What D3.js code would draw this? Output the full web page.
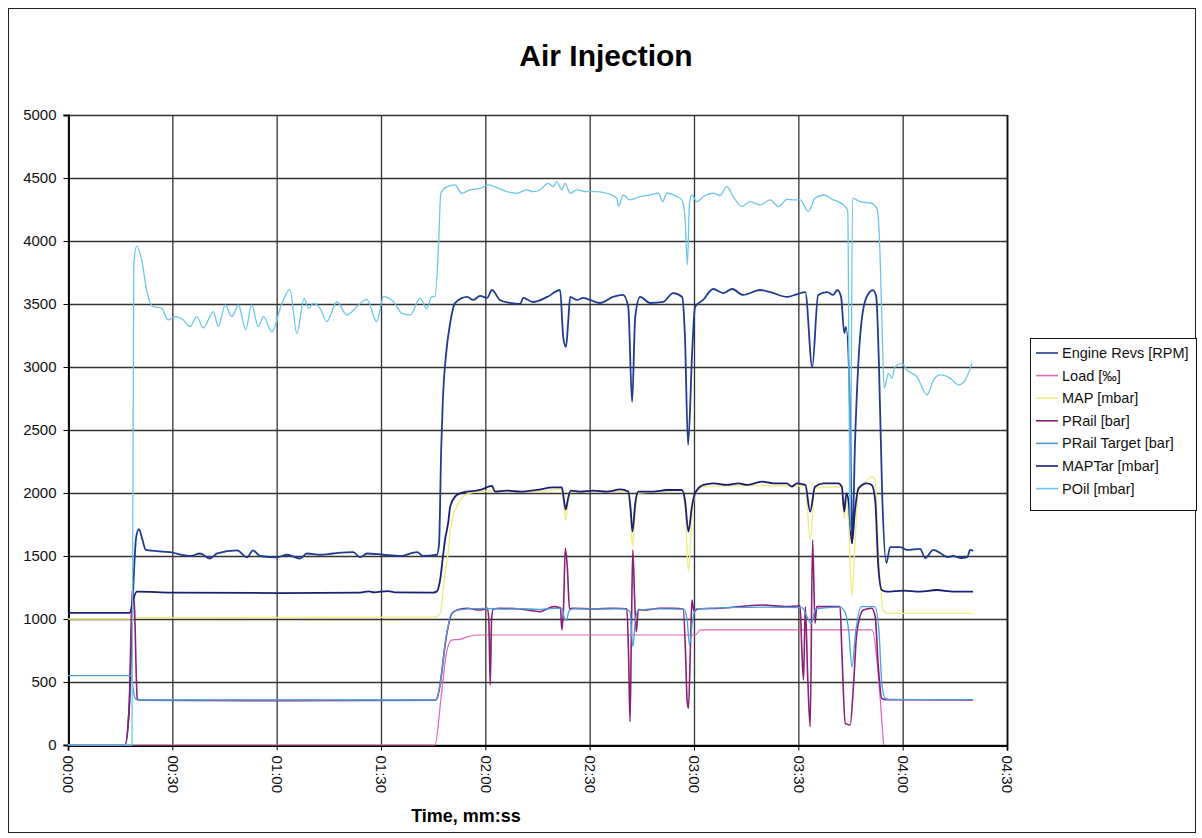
<!DOCTYPE html>
<html>
<head>
<meta charset="utf-8">
<script src="https://cdn.jsdelivr.net/npm/d3@7"></script>
<style>
  body { margin: 0; background: #fff; }
  svg { font-family: "Liberation Sans", Arial, sans-serif; }
</style>
</head>
<body>
<div id="chart"></div>
<script>
// time in seconds
var engineRevs = [[0,0],[16.4,0],[17.6,300],[18.7,1200],[19.6,1650],[20.4,1714],[21.2,1650],[22.4,1548],[29.3,1530],[35.1,1500],[38.0,1520],[40.8,1480],[42.9,1520],[48.6,1545],[51.5,1490],[53.2,1545],[55.2,1500],[60.1,1490],[63.0,1510],[66.7,1480],[68.7,1520],[72.5,1510],[76.2,1520],[82.0,1530],[84.0,1490],[86.0,1520],[90.6,1510],[95.5,1500],[100.4,1530],[102.1,1500],[106.1,1510],[106.7,1600],[107.3,2340],[107.8,2750],[108.7,3100],[109.9,3350],[111.3,3508],[114.8,3556],[116.5,3532],[118.5,3564],[120.5,3548],[121.9,3611],[124.2,3532],[127.1,3508],[130.0,3500],[130.9,3548],[133.7,3516],[137.8,3556],[141.5,3611],[142.4,3238],[143.2,3159],[143.8,3349],[144.4,3556],[146.4,3532],[148.1,3548],[150.1,3532],[153.0,3508],[156.7,3556],[159.6,3572],[161.1,3476],[162.2,2722],[163.1,3397],[164.5,3556],[167.4,3508],[171.1,3516],[174.0,3587],[176.6,3556],[177.4,3238],[178.3,2381],[179.5,3135],[180.3,3476],[182.6,3532],[185.5,3619],[188.4,3587],[191.0,3619],[194.1,3572],[199.0,3611],[201.9,3595],[206.8,3556],[209.7,3579],[212.0,3595],[214.0,3000],[215.7,3572],[218.3,3595],[220.0,3572],[221.2,3611],[222.3,3556],[223.2,3270],[223.7,3318],[224.9,2600],[225.5,1600],[226.3,2400],[227.2,3000],[228.6,3450],[230.1,3580],[231.5,3610],[232.4,3560],[233.2,3000],[234.1,2000],[235.3,1444],[236.4,1571],[239.3,1571],[241.3,1548],[245.0,1556],[246.5,1484],[248.8,1548],[250.8,1524],[252.8,1492],[254.5,1500],[256.5,1484],[258.6,1492],[259.4,1548],[260.3,1540]];

var load = [[0,0],[105.5,0],[107.4,410],[108.8,728],[110.3,833],[112.7,839],[115.1,860],[117.5,873],[180.4,873],[181.8,913],[231.1,913],[234.5,0]];

var map = [[0,1000],[17.5,1000],[19.0,1010],[105.5,1015],[107.0,1045],[108.4,1362],[109.4,1548],[109.9,1706],[111.8,1892],[114.7,1990],[118.5,2011],[125,2020],[135,2010],[141.8,2030],[142.6,1900],[143.1,1786],[143.9,1950],[144.6,2010],[155,2015],[161.1,2010],[161.8,1800],[162.3,1574],[163.1,1850],[164.0,2000],[176.5,2020],[177.4,1900],[178.4,1376],[179.4,1800],[180.3,1990],[182.7,2050],[195,2060],[212.0,2055],[213.4,1627],[214.8,2040],[222.5,2050],[223.2,1800],[223.8,1950],[224.4,1800],[225.4,1180],[226.3,1600],[227.3,2024],[229.7,2100],[231.1,2130],[232.1,2100],[233.0,1548],[234.4,1071],[235.4,1045],[260.2,1045]];

var pRail = [[0,0],[16.4,0],[17.6,300],[18.5,1240],[19.1,1100],[19.9,370],[20.5,355],[60,352],[105.8,355],[106.6,420],[108.9,880],[110.3,1040],[111.8,1071],[114.7,1085],[118.5,1071],[120.6,1085],[121.0,1000],[121.4,476],[121.8,1000],[122.3,1080],[124.2,1085],[130.0,1079],[135.7,1058],[139.6,1098],[141.6,1090],[142.0,913],[142.5,1100],[143.0,1561],[143.6,1400],[144.2,1080],[145.3,1085],[151.1,1079],[156.8,1085],[160.7,1080],[161.2,700],[161.6,185],[162.0,900],[162.4,1548],[163.0,1100],[163.4,900],[164.0,1075],[165.5,1071],[170.3,1085],[174.1,1085],[176.9,1080],[177.6,700],[178.0,360],[178.4,291],[179.0,800],[179.4,1150],[180.0,1060],[181.0,1080],[187.5,1085],[199.5,1111],[206.7,1098],[210.5,1105],[211.0,760],[211.5,516],[212.0,1098],[212.7,540],[213.4,145],[214.1,1627],[214.8,966],[215.3,1098],[222.0,1098],[222.5,754],[223.5,172],[224.9,159],[225.9,490],[226.8,886],[228.7,1071],[231.1,1085],[232.1,1018],[233.0,621],[234.0,370],[235.0,360],[260.2,358]];

var pRailTarget = [[0,550],[18.0,550],[19.3,370],[20.0,357],[105.8,357],[106.5,410],[108.9,886],[110.3,1045],[111.8,1071],[115,1080],[120,1085],[125,1078],[130,1082],[135,1077],[140,1085],[142,1085],[142.8,1000],[143.3,990],[144.0,1060],[145,1080],[160,1080],[161.6,1060],[162.4,780],[163.2,1000],[164.0,1070],[170,1080],[177,1078],[178.0,1000],[178.7,790],[179.6,990],[180.5,1080],[190,1090],[200,1095],[211,1090],[213.7,966],[215,1080],[222,1095],[223.5,1050],[224.5,900],[225.4,620],[226.5,900],[228,1098],[232,1098],[233.2,900],[234.0,490],[235.0,370],[236.0,360],[260.2,360]];

var mapTar = [[0,1048],[17.8,1048],[18.7,1150],[19.8,1217],[30,1210],[60,1206],[84,1209],[86.5,1220],[88,1212],[92,1222],[94,1212],[105.0,1210],[106.0,1217],[107.0,1310],[107.8,1495],[108.4,1627],[109.3,1760],[109.9,1892],[111.3,1971],[112.7,1997],[114.7,2011],[117.5,2019],[118.5,2024],[121.9,2056],[122.8,2011],[126.2,2019],[130.0,2011],[134.8,2024],[139.6,2045],[142.0,2045],[142.6,1944],[143.1,1870],[143.9,1971],[144.6,2019],[147.2,2011],[151.1,2019],[154.9,2011],[158.8,2028],[161.1,2011],[161.8,1865],[162.3,1693],[163.1,1918],[164.0,2011],[168.3,2011],[172.2,2024],[176.5,2024],[177.4,1944],[178.4,1693],[179.4,1892],[180.3,1997],[182.7,2064],[185.6,2077],[189.4,2064],[192.8,2077],[195.2,2064],[199.5,2090],[202.8,2077],[206.7,2077],[208.1,2050],[209.6,2077],[212.0,2064],[213.4,1852],[214.8,2050],[217.2,2077],[221.5,2077],[222.5,2050],[223.2,1852],[223.8,1997],[224.4,1944],[225.4,1601],[226.3,1865],[227.3,2037],[229.7,2077],[231.1,2064],[232.1,1944],[233.0,1415],[234.0,1230],[235.4,1217],[240.2,1225],[245.0,1217],[249.8,1230],[254.6,1217],[260.2,1217]];

var pOil = [[0,0],[18.4,0],[18.9,3800],[19.7,3960],[21.2,3849],[22.6,3611],[24.5,3479],[26.9,3468],[28.8,3373],[30.8,3400],[33.2,3373],[35.1,3320],[37.0,3400],[38.9,3310],[41.8,3439],[43.2,3320],[45.2,3492],[47.1,3400],[49.0,3492],[51.1,3294],[52.8,3492],[54.7,3320],[56.2,3400],[58.6,3280],[61.5,3505],[63.8,3616],[65.8,3267],[67.9,3545],[69.1,3465],[70.5,3505],[72.5,3465],[74.4,3360],[77.3,3518],[80.2,3413],[83.0,3479],[85.9,3537],[88.8,3360],[90.7,3558],[93.6,3518],[96.0,3426],[98.4,3413],[101.2,3545],[103.2,3465],[104.6,3558],[105.5,3558],[106.5,3929],[107.2,4379],[108.9,4430],[111.3,4445],[113.2,4379],[115.6,4405],[118.5,4418],[120.9,4445],[123.8,4418],[126.2,4392],[129.0,4379],[131.9,4405],[133.8,4392],[135.7,4405],[138.1,4458],[139.6,4431],[140.5,4471],[142.0,4405],[142.9,4458],[144.4,4379],[146.3,4405],[149.2,4392],[152.0,4392],[154.9,4379],[157.8,4339],[158.3,4278],[159.7,4365],[161.6,4326],[164.5,4352],[167.4,4365],[169.8,4379],[171.0,4312],[172.2,4379],[175.1,4352],[176.5,4326],[177.4,4193],[178.1,3810],[178.7,4299],[179.4,4365],[180.8,4312],[182.7,4352],[185.6,4379],[187.5,4360],[189.4,4431],[191.3,4352],[193.8,4273],[196.1,4312],[199.0,4286],[201.9,4326],[204.3,4273],[206.7,4331],[209.1,4326],[210.5,4326],[212.9,4233],[214.8,4339],[217.2,4365],[220.1,4326],[223.0,4286],[224.2,4240],[224.9,1700],[225.6,4340],[227.8,4312],[231.1,4299],[232.6,4259],[233.3,4034],[234.0,3400],[234.7,2831],[235.9,2949],[236.9,2910],[237.8,3002],[239.8,3029],[241.2,2976],[244.1,2923],[247.0,2778],[248.9,2897],[250.8,2937],[253.7,2910],[256.1,2857],[258.0,2897],[259.9,3029]];

var seriesNames = ["Engine Revs [RPM]", "Load [‰]", "MAP [mbar]", "PRail [bar]", "PRail Target [bar]", "MAPTar [mbar]", "POil [mbar]"];
var seriesData = [engineRevs, load, map, pRail, pRailTarget, mapTar, pOil];
var seriesColors = ["#203c90", "#e066b8", "#f0ec84", "#8a1f78", "#4a9fdc", "#1a1f72", "#6cc6ec"];
var seriesWidths = [1.8, 1.2, 1.4, 1.6, 1.3, 1.8, 1.3];

var xTicks = d3.range(0, 271, 30);
var yTicks = d3.range(0, 5001, 500);

var width = 1202, height = 838;
var svg = d3.select("#chart").append("svg")
    .attr("width", width)
    .attr("height", height);

// chart area frame
svg.append("rect")
    .attr("x", 8.5).attr("y", 8.5)
    .attr("width", 1187).attr("height", 824)
    .attr("fill", "#fff")
    .attr("stroke", "#222");

var x = d3.scaleLinear().domain([0, 270]).range([68, 1007]);
var y = d3.scaleLinear().domain([0, 5000]).range([745, 115]);

function fmt(s) {
    var m = Math.floor(s / 60), sec = s % 60;
    return String(m).padStart(2, "0") + ":" + String(sec).padStart(2, "0");
}

// grid
svg.append("g").selectAll("line.h")
    .data(yTicks).enter().append("line")
    .attr("x1", x(0)).attr("x2", x(270))
    .attr("y1", d => y(d) + 0.5).attr("y2", d => y(d) + 0.5)
    .attr("stroke", "#333").attr("stroke-width", 1.3);

svg.append("g").selectAll("line.v")
    .data(xTicks).enter().append("line")
    .attr("x1", d => x(d) + 0.5).attr("x2", d => x(d) + 0.5)
    .attr("y1", y(5000)).attr("y2", y(0))
    .attr("stroke", "#333").attr("stroke-width", 1.3);

// axes
var yAxis = d3.axisLeft(y).tickValues(yTicks).tickSize(5).tickPadding(7).tickFormat(d3.format("d"));
var gy = svg.append("g").attr("transform", "translate(" + (x(0) + 0.5) + ",0)").call(yAxis);
gy.select(".domain").attr("stroke", "#000").attr("stroke-width", 1.8);
gy.selectAll("text").style("font-size", "15px").attr("fill", "#111");

var xAxis = d3.axisBottom(x).tickValues(xTicks).tickSize(5).tickFormat(fmt);
var gx = svg.append("g").attr("transform", "translate(0," + (y(0) + 0.5) + ")").call(xAxis);
gx.select(".domain").attr("stroke", "#000").attr("stroke-width", 1.8);
gx.selectAll("text")
    .style("font-size", "15px").attr("fill", "#111")
    .attr("text-anchor", "start")
    .attr("transform", "rotate(90)")
    .attr("x", 10).attr("y", 0).attr("dy", "0.35em");

// right border of plot
svg.append("line")
    .attr("x1", x(270) + 0.5).attr("x2", x(270) + 0.5)
    .attr("y1", y(5000)).attr("y2", y(0))
    .attr("stroke", "#111").attr("stroke-width", 1.8);

// series
var line = d3.line()
    .x(d => x(d[0]))
    .y(d => y(d[1]))
    .curve(d3.curveMonotoneX);

svg.append("g").selectAll("path")
    .data(seriesData).enter().append("path")
    .attr("d", line)
    .attr("fill", "none")
    .attr("stroke", (d, i) => seriesColors[i])
    .attr("stroke-width", (d, i) => seriesWidths[i])
    .attr("stroke-linejoin", "round");

// title
svg.append("text")
    .attr("x", 606).attr("y", 66)
    .attr("text-anchor", "middle")
    .style("font-size", "30px").style("font-weight", "bold")
    .text("Air Injection");

svg.append("text")
    .attr("x", 466).attr("y", 822)
    .attr("text-anchor", "middle")
    .style("font-size", "18px").style("font-weight", "bold")
    .text("Time, mm:ss");

// legend
var legend = svg.append("g").attr("transform", "translate(1030,338)");
legend.append("rect")
    .attr("x", 0.5).attr("y", 0.5)
    .attr("width", 166).attr("height", 172)
    .attr("fill", "#fff").attr("stroke", "#111");

var items = legend.selectAll("g.item")
    .data(seriesNames).enter().append("g")
    .attr("transform", (d, i) => "translate(0," + (15 + i * 22.6) + ")");

items.append("line")
    .attr("x1", 6).attr("x2", 28)
    .attr("stroke", (d, i) => seriesColors[i])
    .attr("stroke-width", 1.6);

items.append("text")
    .attr("x", 32).attr("dy", "0.35em")
    .style("font-size", "14.5px").attr("fill", "#111")
    .text(d => d);
</script>
</body>
</html>
